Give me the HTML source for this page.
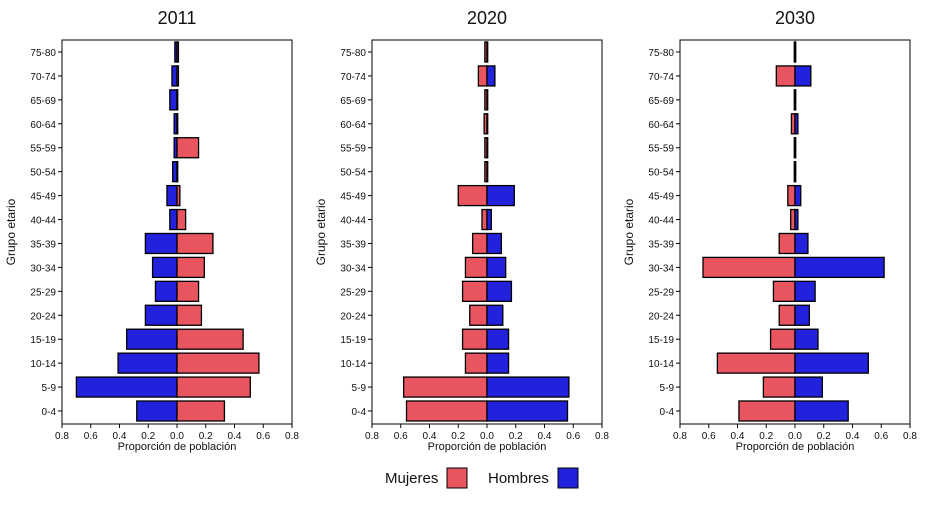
<!DOCTYPE html>
<html><head><meta charset="utf-8"><style>
body{margin:0;background:#fff;font-family:"Liberation Sans",sans-serif;}
svg text{font-family:"Liberation Sans",sans-serif;}
</style></head><body>
<svg id="c" width="928" height="500" xmlns="http://www.w3.org/2000/svg"></svg>
<script>
const groups=["0-4","5-9","10-14","15-19","20-24","25-29","30-34","35-39","40-44","45-49","50-54","55-59","60-64","65-69","70-74","75-80"];
const ticks=[-0.8,-0.6,-0.4,-0.2,0,0.2,0.4,0.6,0.8];
const tickLabels=["0.8","0.6","0.4","0.2","0.0","0.2","0.4","0.6","0.8"];
const years=["2011","2020","2030"];
const hombres2011=[0.28,0.70,0.41,0.35,0.22,0.15,0.17,0.22,0.05,0.07,0.03,0.02,0.02,0.05,0.035,0.015];
const mujeres2011=[0.33,0.51,0.57,0.46,0.17,0.15,0.19,0.25,0.06,0.02,0.005,0.15,0.005,0.005,0.01,0.01];
const mujeres2020=[0.56,0.58,0.15,0.17,0.12,0.17,0.15,0.10,0.035,0.20,0.015,0.015,0.02,0.015,0.06,0.015];
const hombres2020=[0.56,0.57,0.15,0.15,0.11,0.17,0.13,0.10,0.03,0.19,0.005,0.005,0.005,0.005,0.055,0.005];
const mujeres2030=[0.39,0.22,0.54,0.17,0.11,0.15,0.64,0.11,0.03,0.05,0.005,0.005,0.025,0.005,0.13,0.005];
const hombres2030=[0.37,0.19,0.51,0.16,0.10,0.14,0.62,0.09,0.02,0.04,0.005,0.005,0.02,0.005,0.11,0.005];
const RED="#E8555E",BLUE="#2222DD";
// panel: left series, right series
const panels=[
 {year:"2011",x0:62,x1:292,left:hombres2011,lc:BLUE,ln:"hombres",right:mujeres2011,rc:RED,rn:"mujeres"},
 {year:"2020",x0:372,x1:602,left:mujeres2020,lc:RED,ln:"mujeres",right:hombres2020,rc:BLUE,rn:"hombres"},
 {year:"2030",x0:680,x1:910,left:mujeres2030,lc:RED,ln:"mujeres",right:hombres2030,rc:BLUE,rn:"hombres"}
];
const svg=document.getElementById('c');const NS="http://www.w3.org/2000/svg";
function mk(t,a,p){const e=document.createElementNS(NS,t);for(const k in a)e.setAttribute(k,a[k]);(p||svg).appendChild(e);return e;}
const yTop=40,yBot=424;
function yC(i){return 411-i*(411-52)/15;}
panels.forEach((p,pi)=>{
 const g=mk('g',{});
 
 
 const xs=v=>p.x0+(v+0.8)/1.6*(p.x1-p.x0);
 const t=mk('text',{x:(p.x0+p.x1)/2,y:24,'text-anchor':'middle','font-size':18,fill:'#111'},g);t.textContent=p.year;
 
 
 groups.forEach((gr,i)=>{
  const y=yC(i);
  const l=mk('text',{x:p.x0-6,y:y+4,'text-anchor':'end','font-size':10,fill:'#111'},g);l.textContent=gr;
  
  
  const lv=p.left[i],rv=p.right[i];
  const b1=mk('rect',{x:xs(-lv),y:y-10,width:xs(0)-xs(-lv),height:20,fill:p.lc,stroke:'#000','stroke-width':1.3},g);
  
  
  const b2=mk('rect',{x:xs(0),y:y-10,width:xs(rv)-xs(0),height:20,fill:p.rc,stroke:'#000','stroke-width':1.3},g);
  
  
 });
 const box=mk('rect',{x:p.x0,y:yTop,width:p.x1-p.x0,height:yBot-yTop,fill:'none',stroke:'#000','stroke-width':1},g);
 
 
 ticks.forEach((v,k)=>{
  const x=xs(v);
  mk('line',{x1:x,x2:x,y1:yBot,y2:yBot+4,stroke:'#000'},g);
  const tl=mk('text',{x:x,y:yBot+15,'text-anchor':'middle','font-size':10,fill:'#111'},g);tl.textContent=tickLabels[k];
  
  
 });
 groups.forEach((gr,i)=>mk('line',{x1:p.x0-4,x2:p.x0,y1:yC(i),y2:yC(i),stroke:'#000'},g));
 const xt=mk('text',{x:(p.x0+p.x1)/2,y:450,'text-anchor':'middle','font-size':11,fill:'#111'},g);xt.textContent="Proporción de población";
 
 
 const yx=p.x0-47;
 const yt=mk('text',{x:yx,y:232,'text-anchor':'middle','font-size':12,fill:'#111',transform:`rotate(-90 ${yx} 232)`},g);yt.textContent="Grupo etario";
 
 
});
const lg=mk('g',{});


const m=mk('text',{x:385,y:483,'font-size':15,fill:'#111'},lg);m.textContent="Mujeres";


const mb=mk('rect',{x:447,y:468,width:20,height:20,fill:RED,stroke:'#000'},lg);


const h=mk('text',{x:488,y:483,'font-size':15,fill:'#111'},lg);h.textContent="Hombres";


const hb=mk('rect',{x:558,y:468,width:20,height:20,fill:BLUE,stroke:'#000'},lg);


</script>
</body></html>
